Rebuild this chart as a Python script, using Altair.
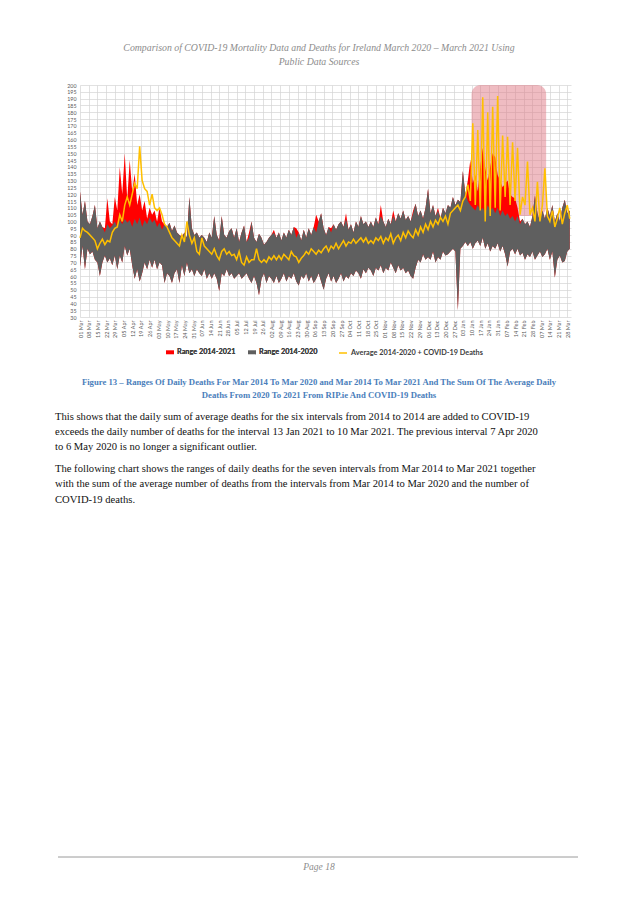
import altair as alt
import pandas as pd

# ---------------- data (2-day steps from 01 Mar 2020) ----------------
START_DATE = "2020-03-01"

GRAY_HIGH = [
    122, 105, 115, 100, 98, 104, 112, 95, 100, 96,
    92, 98, 95, 97, 100, 96, 101, 98, 102, 99,
    101, 96, 102, 98, 103, 96, 101, 98, 103, 99,
    101, 96, 99, 94, 98, 96, 99, 93, 97, 92,
    90, 88, 92, 88, 118, 95, 90, 92, 88, 90,
    88, 85, 92, 88, 104, 90, 86, 104, 90, 88,
    93, 95, 88, 95, 85, 92, 97, 85, 88, 100,
    88, 85, 91, 88, 83, 85, 88, 90, 92, 88,
    92, 86, 92, 88, 94, 90, 96, 88, 92, 86,
    94, 88, 95, 90, 96, 92, 100, 106, 95, 90,
    96, 92, 98, 94, 98, 100, 96, 102, 94, 98,
    92, 100, 96, 104, 98, 100, 96, 100, 96, 103,
    98, 104, 100, 96, 102, 98, 104, 100, 106, 102,
    108, 101, 104, 100, 106, 113, 104, 108, 102, 110,
    124, 106, 112, 104, 108, 102, 110, 106, 112, 110,
    118, 112, 116, 114, 137, 120, 115, 112, 110, 108,
    112, 108, 110, 106, 112, 108, 110, 106, 110, 104,
    108, 104, 106, 102, 104, 100, 104, 98, 102, 98,
    100, 96, 104, 119, 106, 100, 108, 102, 110, 104,
    112, 100, 106, 100, 110, 116, 106, 108,
]

GRAY_LOW = [
    67, 82, 65, 80, 76, 78, 72, 70, 60, 70,
    75, 70, 73, 68, 75, 65, 75, 70, 82, 75,
    80, 68, 58, 65, 56, 62, 70, 65, 72, 66,
    72, 65, 70, 68, 55, 62, 60, 55, 62, 65,
    55, 68, 60, 70, 62, 65, 60, 65, 62, 60,
    65, 58, 62, 58, 62, 58, 49, 62, 60, 65,
    60, 62, 58, 60, 62, 58, 60, 62, 58, 55,
    60, 55, 46, 58, 62, 55, 60, 58, 55, 60,
    55, 58, 62, 56, 60, 58, 62, 56, 53, 60,
    58, 62, 56, 60, 55, 58, 62, 56, 50, 58,
    62, 56, 60, 55, 58, 62, 56, 60, 58, 62,
    60, 64, 62, 58, 65, 62, 66, 64, 60, 66,
    64, 68, 62, 66, 64, 70, 66, 62, 68, 64,
    66, 62, 64, 60, 58, 66, 72, 70, 76, 72,
    74, 72, 78, 70, 74, 72, 78, 75, 76, 78,
    80, 78, 35, 80, 82, 85, 82, 85, 80, 84,
    86, 82, 88, 80, 84, 78, 82, 80, 84, 78,
    82, 76, 67, 78, 80, 76, 80, 75, 77, 72,
    76, 74, 78, 72, 75, 78, 74, 76, 80, 72,
    78, 59, 72, 75, 70, 71, 78, 80,
]

RED_HIGH = [
    122, 105, 115, 100, 98, 104, 112, 95, 100, 96,
    95, 117, 100, 98, 118, 108, 140, 120, 150, 116,
    145, 122, 135, 112, 120, 108, 115, 102, 110, 105,
    108, 100, 110, 100, 98, 96, 99, 93, 97, 92,
    90, 89, 92, 88, 118, 95, 90, 92, 88, 90,
    88, 85, 92, 88, 104, 90, 86, 104, 90, 88,
    93, 95, 88, 95, 85, 92, 97, 85, 92, 100,
    88, 85, 91, 88, 83, 85, 88, 90, 94, 88,
    92, 86, 92, 88, 94, 90, 96, 95, 92, 86,
    94, 88, 95, 90, 96, 105, 100, 106, 95, 90,
    96, 95, 98, 94, 98, 100, 96, 106, 94, 98,
    92, 100, 96, 104, 98, 100, 96, 100, 96, 103,
    98, 112, 100, 96, 102, 98, 108, 100, 106, 102,
    108, 101, 104, 100, 108, 113, 104, 108, 102, 110,
    124, 106, 112, 104, 110, 102, 110, 106, 112, 110,
    118, 112, 116, 114, 137, 120, 130, 145, 128, 134,
    122, 140, 154, 139, 130, 140, 150, 147, 134, 130,
    125, 128, 130, 120, 118, 117, 110, 100, 102, 98,
    100, 96, 104, 119, 106, 100, 108, 102, 110, 104,
    112, 100, 106, 100, 110, 116, 106, 108,
]

AVERAGE_PLUS_COVID = [
    88, 95, 93, 92, 90, 88, 86, 80, 84, 87,
    83, 86, 85, 92, 95, 96, 105, 100, 112, 118,
    112, 120, 128, 124, 155, 130, 124, 122, 112, 120,
    110, 108, 110, 105, 98, 96, 92, 88, 86, 84,
    82, 90, 85, 100, 90, 84, 88, 78, 76, 88,
    82, 80, 78, 76, 80, 75, 72, 78, 80, 76,
    78, 75, 76, 72, 78, 70, 68, 74, 70, 72,
    72, 80, 72, 70, 72, 70, 74, 72, 75, 72,
    75, 72, 76, 74, 72, 78, 75, 74, 70, 73,
    75, 78, 76, 80, 78, 76, 79, 77, 80, 82,
    78, 82, 80, 84, 80, 83, 86, 82, 85, 84,
    87, 84, 86, 88, 85, 88, 84, 86, 84, 88,
    86, 89, 84, 88, 86, 91, 84, 88, 90, 86,
    92, 88, 93, 90, 88, 94, 90, 96, 92, 98,
    94, 100, 96, 101, 98, 103, 100, 104, 98, 106,
    108, 110, 112, 108, 115, 118, 127, 115, 172, 112,
    167, 108, 191, 100, 180, 104, 184, 110, 192, 108,
    163, 118, 162, 112, 158, 115, 154, 105, 118, 112,
    144, 105, 110, 100, 129, 100, 112, 139, 104, 100,
    108, 96, 102, 110, 98, 106, 112, 102,
]

SERIES = ["Range 2014-2021", "Range 2014-2020", "Average 2014-2020 + COVID-19 Deaths"]
COLORS = ["#ff0000", "#5f5f5f", "#ffc000"]

Y_TICKS = list(range(30, 205, 5))

HIGHLIGHT_START = ["2021-01-10"]
HIGHLIGHT_END = ["2021-03-11"]
HIGHLIGHT_LOW = [104]
HIGHLIGHT_HIGH = [200]

HEADER = ["Comparison of COVID-19 Mortality Data and Deaths for Ireland March 2020 \u2013 March 2021 Using",
          "Public Data Sources"]
CAPTION = ["Figure 13 \u2013 Ranges Of Daily Deaths For Mar 2014 To Mar 2020 and Mar 2014 To Mar 2021 And The Sum Of The Average Daily",
           "Deaths From 2020 To 2021 From RIP.ie And COVID-19 Deaths"]
PARA1 = ["This shows that the daily sum of average deaths for the six intervals from 2014 to 2014 are added to COVID-19",
         "exceeds the daily number of deaths for the interval 13 Jan 2021 to 10 Mar 2021. The previous interval 7 Apr 2020",
         "to 6 May 2020 is no longer a significant outlier."]
PARA2 = ["The following chart shows the ranges of daily deaths for the seven intervals from Mar 2014 to Mar 2021 together",
         "with the sum of the average number of deaths from the intervals from Mar 2014 to Mar 2020 and the number of",
         "COVID-19 deaths."]
FOOTER = "Page 18"

# ---------------- build ----------------
dates = pd.date_range(START_DATE, periods=len(AVERAGE_PLUS_COVID), freq="2D").strftime("%Y-%m-%d")
df = pd.DataFrame({
    "date": dates,
    "gray_hi": GRAY_HIGH,
    "gray_lo": GRAY_LOW,
    "red_hi": RED_HIGH,
    "avg": AVERAGE_PLUS_COVID,
})
box = pd.DataFrame({"start": HIGHLIGHT_START, "end": HIGHLIGHT_END,
                    "low": HIGHLIGHT_LOW, "high": HIGHLIGHT_HIGH})

W, H = 491, 232
x_scale = alt.Scale(type="utc",
                    domain=[alt.DateTime(year=2020, month=3, date=1, utc=True),
                            alt.DateTime(year=2021, month=3, date=31, utc=True)])
y_scale = alt.Scale(domain=[30, 200], nice=False, zero=False)

x_axis = alt.Axis(format="%d %b", labelAngle=-90, tickCount={"interval": "week", "step": 1},
                  labelFont="Lato", labelFontSize=5.5, labelColor="#595959", labelPadding=3,
                  labelOverlap=False, labelFlush=False, ticks=False, domain=False,
                  grid=True, gridColor="#d4d4d4", gridWidth=0.7, title=None)
y_axis = alt.Axis(values=Y_TICKS, labelFont="Lato", labelFontSize=5.3, labelColor="#595959",
                  labelPadding=4, labelOverlap=False, labelFlush=False, ticks=False, domain=False,
                  grid=True, gridColor="#d4d4d4", gridWidth=0.7, title=None)

fill_scale = alt.Scale(domain=SERIES[:2], range=COLORS[:2])
stroke_scale = alt.Scale(domain=SERIES[2:], range=COLORS[2:])

fill_legend = alt.Legend(orient="none", legendX=86, legendY=263, direction="horizontal", title=None,
                         symbolType="M-1,-0.45H1V0.45H-1Z", symbolSize=64, symbolStrokeWidth=0,
                         labelFont="Lato", labelFontSize=7.3, labelFontWeight="bold", labelColor="#404040",
                         columnPadding=12, labelOffset=3)
stroke_legend = alt.Legend(orient="none", legendX=258, legendY=263, direction="horizontal", title=None,
                           symbolType="stroke", symbolSize=64, symbolStrokeWidth=1.5,
                           labelFont="Lato", labelFontSize=7.3, labelFontWeight="bold", labelColor="#404040",
                           labelOffset=3)

X_DATE = alt.X("date:T", scale=x_scale, axis=x_axis)

highlight = alt.Chart(box).mark_rect(color="#e07a85", opacity=0.5, cornerRadius=9).encode(
    x=alt.X("start:T", scale=x_scale, axis=x_axis),
    x2="end:T",
    y=alt.Y("high:Q", scale=y_scale, axis=y_axis),
    y2="low:Q",
)

base = alt.Chart(df)
red_area = base.mark_area(opacity=1).transform_calculate(series=f"'{SERIES[0]}'").encode(
    x=X_DATE,
    y=alt.Y("red_hi:Q", scale=y_scale, axis=y_axis),
    y2="gray_lo:Q",
    fill=alt.Fill("series:N", scale=fill_scale, legend=fill_legend),
)
gray_area = base.mark_area(opacity=1).transform_calculate(series=f"'{SERIES[1]}'").encode(
    x=X_DATE,
    y=alt.Y("gray_hi:Q", scale=y_scale, axis=y_axis),
    y2="gray_lo:Q",
    fill=alt.Fill("series:N", scale=fill_scale, legend=fill_legend),
)
avg_line = base.mark_line(strokeWidth=1.5).transform_calculate(series=f"'{SERIES[2]}'").encode(
    x=X_DATE,
    y=alt.Y("avg:Q", scale=y_scale, axis=y_axis),
    stroke=alt.Stroke("series:N", scale=stroke_scale, legend=stroke_legend),
)

one = alt.Data(values=[{}])


def text_block(lines, x, y, align="center", size=9.5, color="#000000", style="normal",
               weight="normal", line_height=14):
    return alt.Chart(one).mark_text(
        align=align, baseline="middle", font="Liberation Serif", fontSize=size,
        fontStyle=style, fontWeight=weight, color=color, lineHeight=line_height,
    ).encode(x=alt.value(x), y=alt.value(y), text=alt.value(lines))


header = text_block(HEADER, 239, -37.5, style="italic", color="#8c8c8c", size=9.8, line_height=14)
caption = text_block(CAPTION, 239, 296.5, weight="bold", color="#4a7ebb", size=8.7, line_height=13.5)
para1 = text_block(PARA1, -25, 331.5, align="left", color="#111111", size=10.6, line_height=15.3)
para2 = text_block(PARA2, -25, 384, align="left", color="#111111", size=10.6, line_height=15.3)
footer_rule = alt.Chart(one).mark_rule(color="#9a9a9a", strokeWidth=1).encode(
    x=alt.value(-22), x2=alt.value(498), y=alt.value(772))
footer = text_block(FOOTER, 239, 782, style="italic", color="#8c8c8c", size=9.5)

chart = alt.layer(
    highlight, red_area, gray_area, avg_line,
    header, caption, para1, para2, footer_rule, footer,
).resolve_scale(fill="independent", stroke="independent").properties(
    width=W, height=H,
    autosize=alt.AutoSizeParams(type="none"),
    padding={"left": 72, "top": 77, "right": 50, "bottom": 570},
    background="white",
).configure_view(stroke=None)

chart.save("out.html", embed_options={"renderer": "svg", "actions": False})
